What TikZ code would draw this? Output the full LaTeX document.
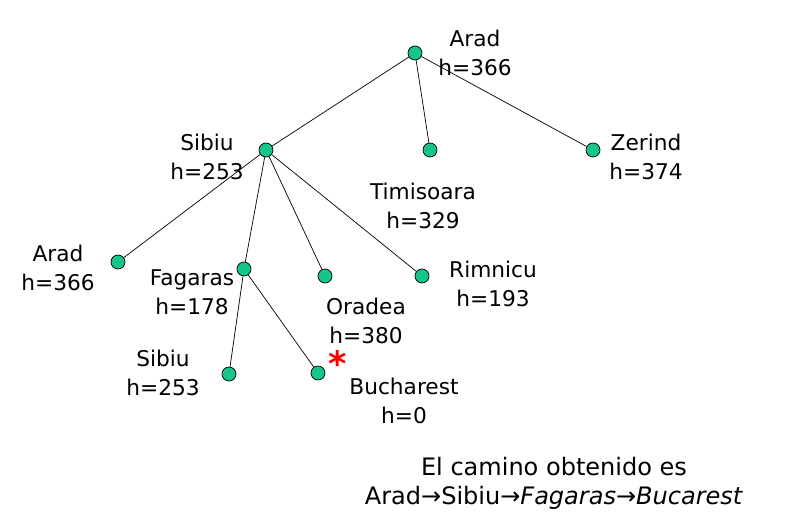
\documentclass[tikz,border=0pt]{standalone}
\usepackage{fontspec}
\setmainfont{DejaVu Sans}
\usetikzlibrary{positioning}
\definecolor{nodegreen}{RGB}{22,196,140}
\tikzstyle{state}=[
        circle,
        draw=black,
        semithick,
        fill=nodegreen,
        inner sep=0pt,
        minimum size=0.42cm
]
\tikzstyle{hlabel}=[
        align=center,
        inner sep=0pt,
        font=\fontsize{18.5}{24.6}\selectfont
]

\begin{document}
\begin{tikzpicture}[x=0.03cm,y=-0.03cm]
                        \useasboundingbox (0,0) rectangle (790,529);

                        \node[state] (arad) at (415,53) {};
                        \node[state] (sibiu) at (266,150) {};
                        \node[state] (timisoara) at (430,150) {};
                        \node[state] (zerind) at (593,150) {};
                        \node[state] (arad2) at (118,262) {};
                        \node[state] (fagaras) at (244,269) {};
                        \node[state] (oradea) at (325,276) {};
                        \node[state] (rimnicu) at (422,276) {};
                        \node[state] (sibiu2) at (229,374) {};
                        \node[state] (bucharest) at (318,373) {};

                        \draw[semithick] (arad) -- (sibiu);
                        \draw[semithick] (arad) -- (timisoara);
                        \draw[semithick] (arad) -- (zerind);
                        \draw[semithick] (sibiu) -- (arad2);
                        \draw[semithick] (sibiu) -- (fagaras);
                        \draw[semithick] (sibiu) -- (oradea);
                        \draw[semithick] (sibiu) -- (rimnicu);
                        \draw[semithick] (fagaras) -- (sibiu2);
                        \draw[semithick] (fagaras) -- (bucharest);

                        \node[hlabel] (l-arad) at (475,53) {Arad\\h=366};
                        \node[hlabel] (l-sibiu) at (207,157) {Sibiu\\h=253};
                        \node[hlabel] (l-timisoara) at (423,206) {Timisoara\\h=329};
                        \node[hlabel] (l-zerind) at (646,157) {Zerind\\h=374};
                        \node[hlabel] (l-arad2) at (58,268) {Arad\\h=366};
                        \node[hlabel] (l-fagaras) at (192,292) {Fagaras\\h=178};
                        \node[hlabel] (l-oradea) at (366,321) {Oradea\\h=380};
                        \node[hlabel] (l-rimnicu) at (493,284) {Rimnicu\\h=193};
                        \node[hlabel] (l-sibiu2) at (163,373) {Sibiu\\h=253};
                        \node[hlabel] (l-bucharest) at (404,401) {Bucharest\\h=0};

                        \node[text=red, font=\fontsize{30}{30}\selectfont\bfseries, inner sep=0pt] (goal) at (338,363) {*};

                        \node[align=center, inner sep=0pt, font=\fontsize{20.5}{24.6}\selectfont] (result) at (554,483)
                            {El camino obtenido es\\Arad→Sibiu→\textit{Fagaras}→\textit{Bucarest}};
                    \end{tikzpicture}
\end{document}
